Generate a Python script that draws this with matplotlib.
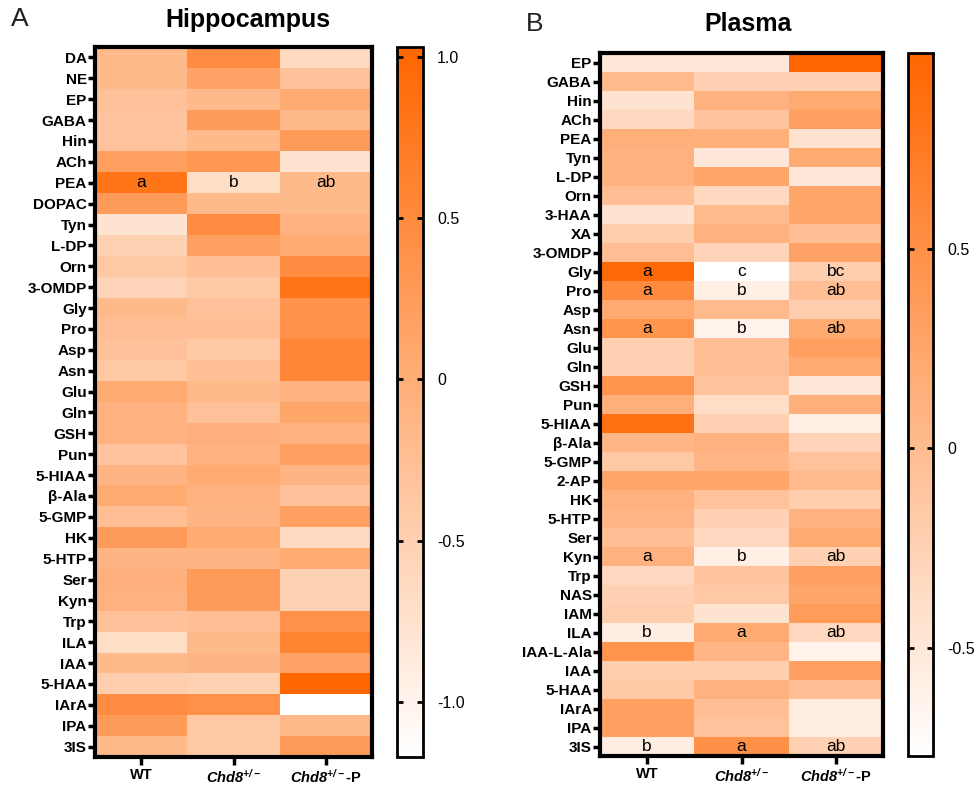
import numpy as np
import matplotlib
matplotlib.use("Agg")
import matplotlib.pyplot as plt
from matplotlib.colors import LinearSegmentedColormap

plt.rcParams['font.family'] = ['Liberation Sans', 'DejaVu Sans']
plt.rcParams['mathtext.fontset'] = 'custom'
plt.rcParams['mathtext.rm'] = 'Liberation Sans'
plt.rcParams['mathtext.it'] = 'Liberation Sans:italic'
plt.rcParams['mathtext.bf'] = 'Liberation Sans:bold'
plt.rcParams['mathtext.bfit'] = 'Liberation Sans:bold:italic'

groups = ['WT', r'$\mathbfit{Chd8}^{\mathbfit{+/-}}$', r'$\mathbfit{Chd8}^{\mathbfit{+/-}}$-P']

hip_metabolites = ['DA', 'NE', 'EP', 'GABA', 'Hin', 'ACh', 'PEA', 'DOPAC', 'Tyn', 'L-DP',
                   'Orn', '3-OMDP', 'Gly', 'Pro', 'Asp', 'Asn', 'Glu', 'Gln', 'GSH', 'Pun',
                   '5-HIAA', 'β-Ala', '5-GMP', 'HK', '5-HTP', 'Ser', 'Kyn', 'Trp', 'ILA',
                   'IAA', '5-HAA', 'IArA', 'IPA', '3IS']
hip_wt = [-0.18, -0.18, -0.29, -0.33, -0.33, 0.19, 0.81, 0.26, -0.77, -0.51,
          -0.40, -0.55, -0.18, -0.25, -0.29, -0.40, 0.04, -0.07, -0.07, -0.33,
          -0.11, 0.04, -0.25, 0.26, -0.11, -0.03, -0.07, -0.29, -0.69,
          -0.18, -0.47, 0.48, 0.26, -0.18]
hip_chd8 = [0.48, 0.15, -0.18, 0.26, -0.18, 0.33, -0.69, -0.18, 0.48, 0.19,
            -0.25, -0.40, -0.29, -0.25, -0.40, -0.25, -0.18, -0.29, -0.03, -0.07,
            0.04, -0.07, -0.11, 0.04, -0.11, 0.26, 0.26, -0.25, -0.18,
            -0.11, -0.51, 0.41, -0.40, -0.40]
hip_chd8p = [-0.62, -0.29, 0.04, -0.18, 0.26, -0.77, -0.18, -0.18, -0.07, 0.04,
             0.48, 0.81, 0.37, 0.41, 0.55, 0.55, -0.07, 0.11, -0.07, 0.19,
             -0.11, -0.29, 0.19, -0.62, 0.04, -0.51, -0.51, 0.41, 0.59,
             0.15, 1.03, -1.17, -0.18, 0.26]
hip_letters = {('PEA', 0): 'a', ('PEA', 1): 'b', ('PEA', 2): 'ab'}

pla_metabolites = ['EP', 'GABA', 'Hin', 'ACh', 'PEA', 'Tyn', 'L-DP', 'Orn', '3-HAA', 'XA',
                   '3-OMDP', 'Gly', 'Pro', 'Asp', 'Asn', 'Glu', 'Gln', 'GSH', 'Pun',
                   '5-HIAA', 'β-Ala', '5-GMP', '2-AP', 'HK', '5-HTP', 'Ser', 'Kyn', 'Trp',
                   'NAS', 'IAM', 'ILA', 'IAA-L-Ala', 'IAA', '5-HAA', 'IArA', 'IPA', '3IS']
pla_wt = [-0.51, 0.02, -0.45, -0.33, 0.15, 0.11, 0.11, -0.03, -0.45, -0.21,
          -0.03, 0.95, 0.55, 0.20, 0.46, -0.24, -0.24, 0.46, 0.15,
          0.85, 0.07, -0.15, 0.25, 0.11, 0.07, -0.03, 0.11, -0.33,
          -0.24, -0.21, -0.56, 0.46, -0.21, -0.15, 0.32, 0.32, -0.56]
pla_chd8 = [-0.51, -0.24, 0.11, -0.10, 0.15, -0.51, 0.25, -0.33, 0.02, 0.11,
            -0.28, -0.77, -0.59, 0.02, -0.63, -0.03, -0.03, -0.10, -0.38,
            -0.24, 0.11, 0.07, 0.25, -0.07, -0.24, -0.33, -0.59, -0.10,
            -0.15, -0.45, 0.20, 0.07, -0.21, 0.11, -0.03, -0.07, 0.50]
pla_chd8p = [0.99, -0.24, 0.20, 0.32, -0.45, 0.20, -0.51, 0.25, 0.25, -0.03,
             0.29, -0.21, -0.03, -0.21, 0.20, 0.32, 0.20, -0.51, 0.15,
             -0.59, -0.28, -0.07, 0.02, -0.21, 0.11, 0.20, -0.24, 0.32,
             0.25, 0.37, -0.33, -0.63, 0.32, -0.03, -0.56, -0.56, -0.24]
pla_letters = {('Gly', 0): 'a', ('Gly', 1): 'c', ('Gly', 2): 'bc',
               ('Pro', 0): 'a', ('Pro', 1): 'b', ('Pro', 2): 'ab',
               ('Asn', 0): 'a', ('Asn', 1): 'b', ('Asn', 2): 'ab',
               ('Kyn', 0): 'a', ('Kyn', 1): 'b', ('Kyn', 2): 'ab',
               ('ILA', 0): 'b', ('ILA', 1): 'a', ('ILA', 2): 'ab',
               ('3IS', 0): 'b', ('3IS', 1): 'a', ('3IS', 2): 'ab'}

cmap = LinearSegmentedColormap.from_list('wo', ['#ffffff', '#ff6600'])

W, H = 974, 787
fig = plt.figure(figsize=(W / 100, H / 100), dpi=100)


def fr(x0, y0, x1, y1):
    return [x0 / W, 1 - y1 / H, (x1 - x0) / W, (y1 - y0) / H]


def panel(ax_rect, cax_rect, names, cols, letters, vmin, vmax, cticks, clabels):
    ax = fig.add_axes(fr(*ax_rect))
    cax = fig.add_axes(fr(*cax_rect))
    data = np.array(cols).T
    im = ax.imshow(data, cmap=cmap, vmin=vmin, vmax=vmax, aspect='auto',
                   interpolation='nearest')
    ax.set_yticks(range(len(names)))
    ax.set_yticklabels(names, fontsize=11, fontweight='bold')
    ax.set_xticks(range(3))
    ax.set_xticklabels(groups, fontsize=10.5, fontweight='bold')
    ax.tick_params(axis='y', direction='out', length=5, width=2.5, pad=1)
    ax.tick_params(axis='x', direction='out', length=6, width=2.5, pad=2)
    for s in ax.spines.values():
        s.set_linewidth(3)
    for (name, j), txt in letters.items():
        i = names.index(name)
        ax.text(j, i, txt, ha='center', va='center', fontsize=12.5, color='black')
    cb = fig.colorbar(im, cax=cax, ticks=cticks)
    cb.ax.set_yticklabels(clabels, fontsize=11.5)
    cb.outline.set_linewidth(2)
    cax.tick_params(axis='y', direction='in', left=True, right=True, length=4,
                    width=2, pad=10)
    return ax


panel((95, 47, 372, 757), (397, 47, 423, 757), hip_metabolites,
      [hip_wt, hip_chd8, hip_chd8p], hip_letters, -1.17, 1.03,
      [-1.0, -0.5, 0, 0.5, 1.0], ['-1.0', '-0.5', '0', '0.5', '1.0'])
panel((600, 53, 883, 756), (908, 53, 933, 756), pla_metabolites,
      [pla_wt, pla_chd8, pla_chd8p], pla_letters, -0.77, 0.99,
      [-0.5, 0, 0.5], ['-0.5', '0', '0.5'])

fig.text(248 / W, 1 - 20 / H, 'Hippocampus', ha='center', va='center',
         fontsize=18, fontweight='bold')
fig.text(748 / W, 1 - 24 / H, 'Plasma', ha='center', va='center',
         fontsize=18, fontweight='bold')
fig.text(20 / W, 1 - 19 / H, 'A', ha='center', va='center', fontsize=19,
         color='#231f20')
fig.text(535 / W, 1 - 24 / H, 'B', ha='center', va='center', fontsize=19,
         color='#231f20')

fig.savefig('out.png', dpi=100)
